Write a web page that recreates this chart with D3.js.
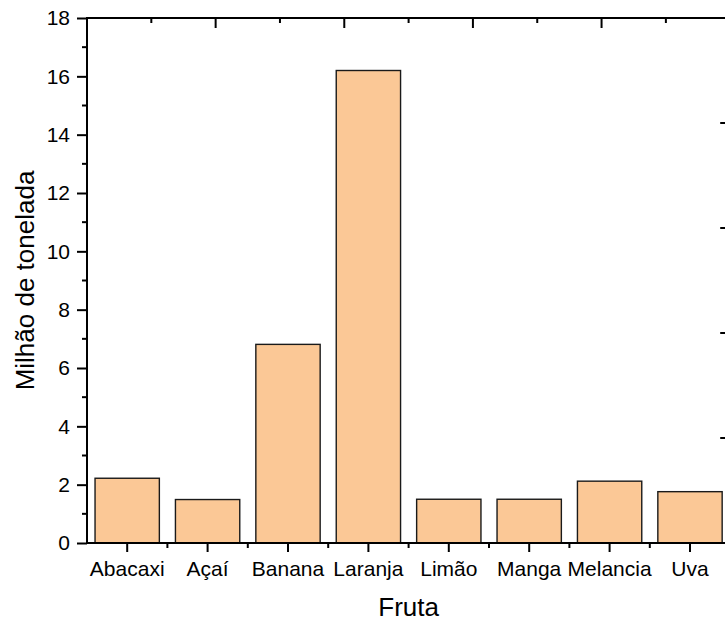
<!DOCTYPE html>
<html>
<head>
<meta charset="utf-8">
<script src="https://cdn.jsdelivr.net/npm/d3@7/dist/d3.min.js"></script>
<style>
html,body{margin:0;padding:0;background:#fff;}
svg{display:block;font-family:"Liberation Sans",Arial,sans-serif;}
</style>
</head>
<body>
<svg id="chart" width="725" height="622"></svg>
<script>
const categories = ["Abacaxi","Açaí","Banana","Laranja","Limão","Manga","Melancia","Uva"];
const values = [2.22, 1.49, 6.81, 16.2, 1.5, 1.5, 2.12, 1.76];
const yTicks = [0,2,4,6,8,10,12,14,16,18];
const xTitle = "Fruta";
const yTitle = "Milhão de tonelada";

(function(){
const svg = d3.select("#chart");
const pL = 87, pR = 730.2, pT = 18, pB = 543;

const x = d3.scaleBand().domain(categories).range([pL, pR]).paddingInner(0.2).paddingOuter(0.1);
const y = d3.scaleLinear().domain([0, 18]).range([pB, pT]);

// bars
svg.append("g").selectAll("rect").data(values).join("rect")
  .attr("x", (d,i) => x(categories[i]))
  .attr("y", d => y(d))
  .attr("width", x.bandwidth())
  .attr("height", d => y(0) - y(d))
  .attr("fill", "#FBC896")
  .attr("stroke", "#1a1a1a")
  .attr("stroke-width", 1.4);

const stroke = "#000";
const axisW = 2;
const ff = '"Liberation Sans",Arial,sans-serif';

// Left axis
const yAxis = d3.axisLeft(y).tickValues(yTicks).tickSize(10).tickPadding(7);
const gl = svg.append("g").attr("transform", `translate(${pL},0)`).call(yAxis);
gl.select(".domain").remove();
gl.selectAll(".tick line").attr("stroke", stroke).attr("stroke-width", axisW);
gl.selectAll(".tick text").attr("font-size", 21).attr("fill","#000").attr("font-family", ff);
svg.append("g").selectAll("line").data(d3.range(1, 18, 2)).join("line")
  .attr("x1", pL - 5).attr("x2", pL).attr("y1", d => y(d)).attr("y2", d => y(d))
  .attr("stroke", stroke).attr("stroke-width", axisW);

// Bottom axis
const xAxis = d3.axisBottom(x).tickSize(9).tickPadding(9);
const gb = svg.append("g").attr("transform", `translate(0,${pB})`).call(xAxis);
gb.select(".domain").remove();
gb.selectAll(".tick line").attr("stroke", stroke).attr("stroke-width", axisW);
gb.selectAll(".tick text").attr("font-size", 21).attr("fill","#000").attr("font-family", ff);
svg.append("g").selectAll("line").data(d3.range(1, categories.length)).join("line")
  .attr("x1", i => pL + i * x.step()).attr("x2", i => pL + i * x.step())
  .attr("y1", pB).attr("y2", pB + 5)
  .attr("stroke", stroke).attr("stroke-width", axisW);

// Top axis (inward ticks)
const xt = d3.scaleLinear().domain([0, 10]).range([pL, pR]);
svg.append("g").selectAll("line").data(d3.range(0, 11)).join("line")
  .attr("x1", d => xt(d)).attr("x2", d => xt(d))
  .attr("y1", pT).attr("y2", d => pT + (d % 2 === 0 ? 10 : 5))
  .attr("stroke", stroke).attr("stroke-width", axisW);

// Right axis (inward ticks)
const yr = d3.scaleLinear().domain([0, 10]).range([pB, pT]);
svg.append("g").selectAll("line").data(d3.range(0, 11)).join("line")
  .attr("x1", pR).attr("x2", d => pR - (d % 2 === 0 ? 10 : 5))
  .attr("y1", d => yr(d)).attr("y2", d => yr(d))
  .attr("stroke", stroke).attr("stroke-width", axisW);

// Frame
svg.append("line").attr("x1", pL).attr("x2", pL).attr("y1", pT - 1).attr("y2", pB + 1).attr("stroke", stroke).attr("stroke-width", axisW);
svg.append("line").attr("x1", pL - 1).attr("x2", pR + 1).attr("y1", pB).attr("y2", pB).attr("stroke", stroke).attr("stroke-width", axisW);
svg.append("line").attr("x1", pL - 1).attr("x2", pR + 1).attr("y1", pT).attr("y2", pT).attr("stroke", stroke).attr("stroke-width", axisW);
svg.append("line").attr("x1", pR).attr("x2", pR).attr("y1", pT).attr("y2", pB).attr("stroke", stroke).attr("stroke-width", axisW);

// Titles
svg.append("text").attr("x", (pL + pR) / 2).attr("y", 616)
  .attr("text-anchor", "middle").attr("font-size", 26).attr("font-family", ff).text(xTitle);
svg.append("text").attr("transform", `translate(34,${(pT + pB) / 2}) rotate(-90)`)
  .attr("text-anchor", "middle").attr("font-size", 26).attr("font-family", ff).text(yTitle);
})();
</script>
</body>
</html>
